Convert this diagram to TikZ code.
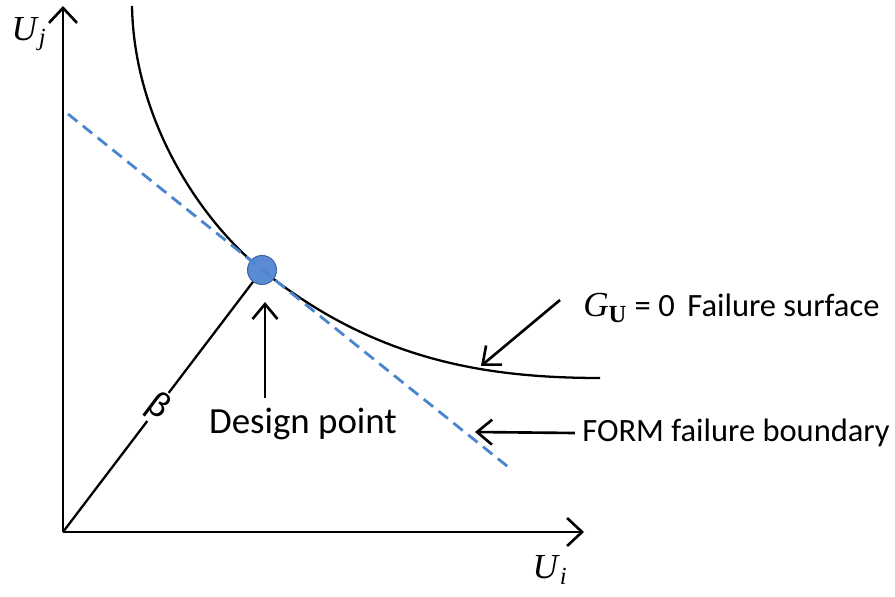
\documentclass[tikz,border=0pt]{standalone}
\usepackage{fontspec}
\setsansfont{Carlito}
\setmainfont{Liberation Serif}
\usetikzlibrary{arrows.meta, positioning}
\definecolor{DPblue}{HTML}{5B8BD5}
\definecolor{DPedge}{HTML}{41689F}
\definecolor{FORMblue}{HTML}{4A85CF}

\begin{document}
\begin{tikzpicture}[x=0.02cm, y=-0.02cm,
      axis/.style={line width=1.5pt, -{Straight Barb[length=3mm, width=5.6mm]}},
      pointer/.style={line width=1.5pt, -{Straight Barb[length=3mm, width=5mm]}},
      lab/.style={font=\sffamily\fontsize{18.5}{21}\selectfont, inner sep=0pt},
      axlab/.style={font=\fontsize{20}{24}\selectfont, inner sep=0pt}]
      \useasboundingbox (0,0) rectangle (895,597);
      % Axes
      \coordinate (O) at (63,532);
      \coordinate (yend) at (63,6);
      \coordinate (xend) at (584,532);
      \draw[axis] (O) -- (yend);
      \draw[axis] (O) -- (xend);
      \node[axlab] (uj) at (29,34) {\textit{U}\textsubscript{\textit{j}}};
      \node[axlab] (ui) at (550,570) {\textit{U}\textsubscript{\textit{i}}};
      % Failure surface, tangent to the FORM line at the design point
      \coordinate (dpc) at (262,270);
      \draw[line width=1.3pt] (132,6) .. controls (134,120) and (200,220) .. (dpc)
         .. controls (372,358) and (480,378) .. (600,378);
      % Design point
      \node[circle, fill=DPblue, draw=DPedge, line width=0.6pt,
            minimum size=0.58cm, inner sep=0pt] (dp) at (dpc) {};
      % Reliability index
      \draw[line width=1.3pt] (O) -- (dp)
         node[pos=0.5, fill=white, rotate=-37, inner sep=1pt,
              font=\sffamily\fontsize{21}{24}\selectfont] (beta) {β};
      % FORM boundary: tangent at the design point
      \coordinate (formA) at (68,114);
      \coordinate (formB) at (512,470);
      \draw[FORMblue, line width=1.6pt, dash pattern=on 0.24cm off 0.14cm] (formA) -- (formB);
      % Labels and pointers
      \node[lab, font=\sffamily\fontsize{21}{24}\selectfont] (dplabel) at (303,424) {Design point};
      \coordinate (dptail) at (265,398);
      \coordinate (dptip) at (265,302);
      \draw[pointer] (dptail) -- (dptip);
      \node[lab, anchor=west] (gsurf) at (583,308)
         {{\rmfamily\fontsize{20}{22}\selectfont\textit{G}\textsubscript{\textbf{U}}} = 0\, Failure surface};
      \coordinate (gtail) at (560,300);
      \coordinate (gtip) at (481,366);
      \draw[pointer] (gtail) -- (gtip);
      \node[lab, anchor=west] (formlab) at (582,433) {FORM failure boundary};
      \coordinate (formtip) at (475,432);
      \draw[pointer] ([xshift=-4pt]formlab.west) -- (formtip);
   \end{tikzpicture}
\end{document}
